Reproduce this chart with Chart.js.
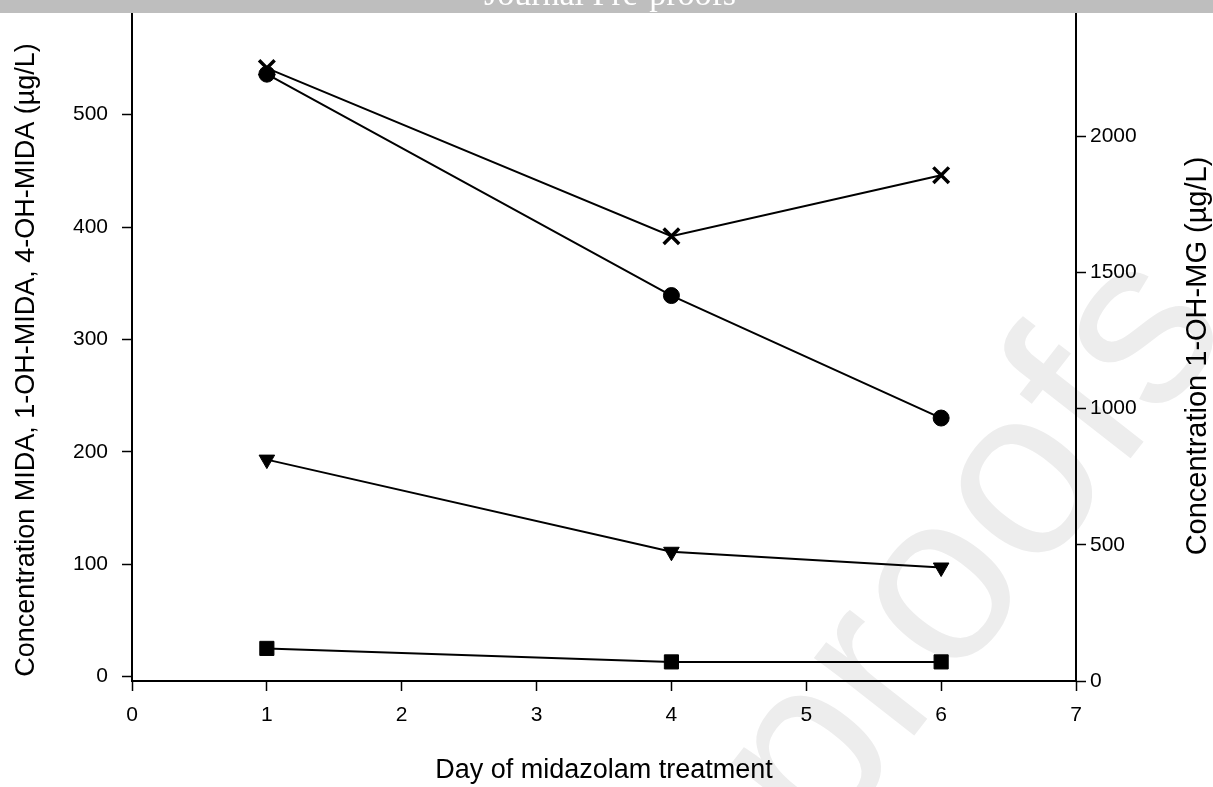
<!DOCTYPE html>
<html lang="en">
<head>
    <meta charset="UTF-8">
    <title>Midazolam concentrations</title>
    <script src="https://cdn.jsdelivr.net/npm/chart.js"></script>
    <style>
        html, body {
            margin: 0;
            padding: 0;
            background: #ffffff;
        }
        canvas {
            display: block;
        }
    </style>
</head>
<body>
    <canvas id="concChart" width="1213" height="787"></canvas>

    <script>
        // data
        const days = [1, 4, 6];
        const mida = [536, 339, 230];          // circles, left axis
        const ohMida1 = [193, 111, 97];        // down triangles, left axis
        const ohMida4 = [25, 13, 13];          // squares, left axis
        const ohMg1 = [2250, 1633, 1857];      // crosses, right axis

        const xTicks = [0, 1, 2, 3, 4, 5, 6, 7];
        const leftTicks = [0, 100, 200, 300, 400, 500];
        const rightTicks = [0, 500, 1000, 1500, 2000];

        const FONT = "'Liberation Sans', Arial, sans-serif";

        function points(values) {
            return days.map((d, i) => ({ x: d, y: values[i] }));
        }

        function series(label, values, style, radius, axis) {
            return {
                label: label,
                data: points(values),
                yAxisID: axis,
                borderColor: '#000',
                borderWidth: 2,
                backgroundColor: '#000',
                pointStyle: style,
                pointRadius: radius,
                pointHoverRadius: radius,
                pointBorderColor: '#000',
                pointBackgroundColor: '#000',
                pointBorderWidth: style === 'crossRot' ? 3.5 : 1,
                pointRotation: style === 'triangle' ? 180 : 0,
                tension: 0,
                fill: false
            };
        }

        function fixSize(prop, size) {
            return function (scale) {
                scale[prop] = size;
                scale.paddingTop = 0;
                scale.paddingBottom = 0;
                scale.paddingLeft = 0;
                scale.paddingRight = 0;
            };
        }

        function axisStyle() {
            return {
                border: { display: true, color: '#000', width: 2 },
                grid: {
                    drawOnChartArea: false,
                    drawTicks: true,
                    tickLength: 10,
                    tickColor: '#000',
                    tickWidth: 1.5
                }
            };
        }

        function verticalTitle(ctx, text, x, y, size) {
            ctx.save();
            ctx.translate(x, y);
            ctx.rotate(-Math.PI / 2);
            ctx.font = size + "px " + FONT;
            ctx.fillStyle = '#000';
            ctx.textAlign = 'center';
            ctx.textBaseline = 'middle';
            ctx.fillText(text, 0, 0);
            ctx.restore();
        }

        // watermark underneath, then banner and the two vertical titles (both read upward)
        const decorations = {
            id: 'decorations',
            beforeDraw(chart) {
                const ctx = chart.ctx;
                ctx.save();
                ctx.translate(975, 550);
                ctx.rotate(-52 * Math.PI / 180);
                ctx.font = "240px " + FONT;
                ctx.fillStyle = '#ededed';
                ctx.textAlign = 'center';
                ctx.textBaseline = 'middle';
                ctx.fillText('proofs', 0, 0);
                ctx.restore();
            },
            afterDraw(chart) {
                const ctx = chart.ctx;
                verticalTitle(ctx, 'Concentration MIDA, 1-OH-MIDA, 4-OH-MIDA (\u00b5g/L)', 27, 360, 27);
                verticalTitle(ctx, 'Concentration 1-OH-MG (\u00b5g/L)', 1198, 356, 29);

                ctx.save();
                ctx.fillStyle = '#bebebe';
                ctx.fillRect(0, 0, chart.width, 13);
                ctx.beginPath();
                ctx.rect(0, 0, chart.width, 13);
                ctx.clip();
                ctx.font = "34px 'Liberation Serif', 'Times New Roman', serif";
                ctx.fillStyle = '#ffffff';
                ctx.textAlign = 'center';
                ctx.textBaseline = 'alphabetic';
                ctx.fillText('Journal Pre-proofs', 610, 5);
                ctx.restore();
            }
        };

        const tickFont = { family: FONT, size: 21 };

        new Chart(document.getElementById('concChart'), {
            type: 'line',
            data: {
                datasets: [
                    series('MIDA', mida, 'circle', 8, 'y'),
                    series('1-OH-MIDA', ohMida1, 'triangle', 9, 'y'),
                    series('4-OH-MIDA', ohMida4, 'rect', 10, 'y'),
                    series('1-OH-MG', ohMg1, 'crossRot', 11, 'y1')
                ]
            },
            options: {
                responsive: false,
                animation: false,
                layout: { padding: 0, autoPadding: false },
                plugins: {
                    legend: { display: false },
                    tooltip: { enabled: false }
                },
                scales: {
                    x: Object.assign(axisStyle(), {
                        type: 'linear',
                        min: 0,
                        max: 7,
                        afterBuildTicks: s => { s.ticks = xTicks.map(v => ({ value: v })); },
                        afterFit: fixSize('height', 106),
                        ticks: { color: '#000', font: tickFont, padding: 12, maxRotation: 0 },
                        title: {
                            display: true,
                            text: 'Day of midazolam treatment',
                            color: '#000',
                            font: { family: FONT, size: 27 },
                            padding: { top: 0, bottom: 0 }
                        }
                    }),
                    y: Object.assign(axisStyle(), {
                        position: 'left',
                        min: -4,
                        max: 602,
                        afterBuildTicks: s => { s.ticks = leftTicks.map(v => ({ value: v })); },
                        afterFit: fixSize('width', 132),
                        ticks: { color: '#000', font: tickFont, padding: 14 }
                    }),
                    y1: Object.assign(axisStyle(), {
                        position: 'right',
                        min: 0,
                        max: 2500,
                        afterBuildTicks: s => { s.ticks = rightTicks.map(v => ({ value: v })); },
                        afterFit: fixSize('width', 137),
                        ticks: {
                            color: '#000',
                            font: tickFont,
                            padding: 4,
                            callback: v => String(v)
                        }
                    })
                }
            },
            plugins: [decorations]
        });
    </script>
</body>
</html>
